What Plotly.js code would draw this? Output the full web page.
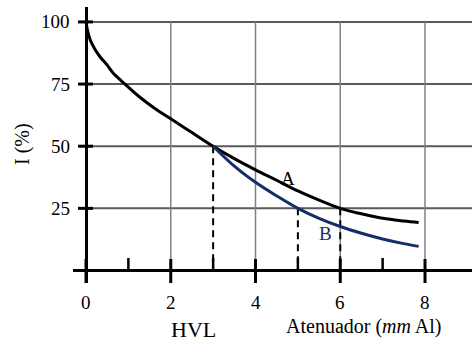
<!DOCTYPE html>
<html>
<head>
<meta charset="utf-8">
<script src="https://cdn.plot.ly/plotly-3.0.1.min.js"></script>
<style>html,body{margin:0;padding:0;background:#fff;}#chart{width:472px;height:341px;}</style>
</head>
<body>
<div id="chart"></div>
<script>
// ---- data ----
const curveAX = [0, 0.03, 0.1, 0.2, 0.33, 0.5, 0.64, 0.92, 1.25, 1.6, 2, 2.5, 3, 3.5, 4, 4.5, 5, 5.5, 6, 6.5, 7, 7.5, 7.85];
const curveAY = [100, 97, 92.7, 89.3, 86, 82.6, 79.4, 75, 70, 65.5, 61, 55.5, 50, 45, 40.5, 36.3, 32, 28.3, 25, 22.8, 21, 19.9, 19.3];
const curveBX = [3, 3.5, 4, 4.5, 5, 5.5, 6, 6.5, 7, 7.5, 7.85];
const curveBY = [50, 42, 35.5, 30, 25, 21, 17.7, 15, 12.7, 10.8, 9.7];
const hvlX = [3, 5, 6];
const hvlY = [50, 25, 25];
const xMajorTicks = [0, 2, 4, 6, 8];
const xMinorTicks = [1, 3, 5, 7];
const yTicks = [25, 50, 75, 100];
const xGrid = [2, 4, 6, 8];

const xRange = [-0.307, 9.109];
const yRange = [-5.03, 106.0];
const serif = 'Liberation Serif';

// dashed HVL drop lines
const dashX = [], dashY = [];
hvlX.forEach((x, i) => { dashX.push(x, x, null); dashY.push(hvlY[i], 0, null); });

const traces = [
  {x: dashX, y: dashY, mode: 'lines', line: {color: '#000', width: 2, dash: '7px,5px'}, hoverinfo: 'skip'},
  {x: curveAX, y: curveAY, mode: 'lines', line: {color: '#000', width: 3, shape: 'spline'}, hoverinfo: 'skip'},
  {x: curveBX, y: curveBY, mode: 'lines', line: {color: '#152d6b', width: 3, shape: 'spline'}, hoverinfo: 'skip'}
];

const shapes = [];
yTicks.forEach(v => shapes.push({type: 'line', layer: 'below', xref: 'x', yref: 'y', x0: 0, x1: xRange[1], y0: v, y1: v, line: {color: '#5a5a5a', width: 2}}));
xGrid.forEach(v => shapes.push({type: 'line', layer: 'below', xref: 'x', yref: 'y', x0: v, x1: v, y0: 0, y1: yTicks[yTicks.length - 1], line: {color: '#808080', width: 1.5}}));
yTicks.forEach(v => shapes.push({type: 'line', xref: 'x', yref: 'y', xsizemode: 'pixel', xanchor: 0, x0: -8, x1: 7, y0: v, y1: v, line: {color: '#000', width: 3}}));
xMajorTicks.forEach(v => shapes.push({type: 'line', xref: 'x', yref: 'y', ysizemode: 'pixel', yanchor: 0, y0: -12.5, y1: 11.5, x0: v, x1: v, line: {color: '#000', width: 3}}));
xMinorTicks.forEach(v => shapes.push({type: 'line', xref: 'x', yref: 'y', ysizemode: 'pixel', yanchor: 0, y0: 0, y1: 12.5, x0: v, x1: v, line: {color: '#000', width: 2.5}}));

const ann = (text, x, y, size, color, extra) => Object.assign({text, x, y, xref: 'paper', yref: 'paper', xanchor: 'center', yanchor: 'middle', showarrow: false, font: {family: serif, size, color}}, extra || {});
const annotations = [
  ann('A', 4.76, 37, 19, '#000', {xref: 'x', yref: 'y'}),
  ann('B', 5.64, 15, 19, '#152d6b', {xref: 'x', yref: 'y'}),
  ann('HVL', 0.301, -0.17, 22, '#000'),
  ann('Atenuador (<i>mm</i> Al)', 0.729, -0.159, 20, '#000'),
  ann('I (%)', -0.125, 0.504, 20, '#000', {textangle: -90})
];
// tick labels
yTicks.forEach(v => annotations.push(ann(String(v), -0.0025, v, 19, '#000', {yref: 'y', xanchor: 'right'})));
xMajorTicks.forEach(v => annotations.push(ann(String(v), v, -0.069, 19, '#000', {xref: 'x'})));

const layout = {
  width: 472, height: 341,
  margin: {l: 73, r: 0, t: 7, b: 58, pad: 0},
  font: {family: serif, size: 19, color: '#000'},
  paper_bgcolor: '#fff', plot_bgcolor: '#fff',
  showlegend: false,
  xaxis: {range: xRange, showgrid: false, zeroline: true, zerolinecolor: '#000', zerolinewidth: 3,
          showticklabels: false, ticks: '', showline: false, fixedrange: true},
  yaxis: {range: yRange, showgrid: false, zeroline: true, zerolinecolor: '#000', zerolinewidth: 3,
          showticklabels: false, ticks: '', showline: false, fixedrange: true},
  shapes: shapes,
  annotations: annotations
};

Plotly.newPlot('chart', traces, layout, {displayModeBar: false, staticPlot: true});
</script>
</body>
</html>
